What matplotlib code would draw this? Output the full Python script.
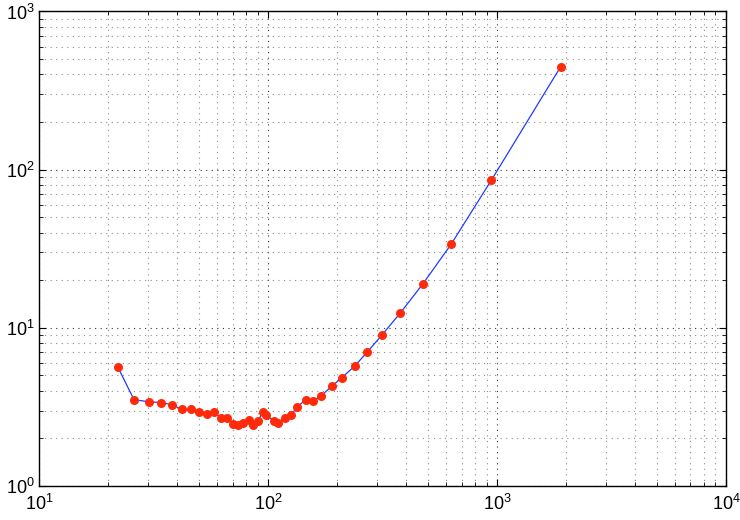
import numpy as np
import matplotlib
matplotlib.use('Agg')
import matplotlib.pyplot as plt

plt.rcParams['font.family'] = ['Liberation Sans', 'DejaVu Sans']
plt.rcParams['mathtext.default'] = 'regular'

# data (log-log)
x = [22.07, 25.93, 30.06, 33.92, 37.88, 42.02, 45.85, 50.0, 53.86, 57.99,
     62.39, 65.87, 70.4, 73.8, 77.9, 82.2, 86.1, 90.2, 94.6, 97.8,
     106.0, 110.4, 118.8, 126.1, 134.0, 145.8, 157.7, 169.6, 190.6, 210.1,
     238.8, 271.0, 314.2, 377.7, 474.7, 630.8, 943.4, 1896.0]
y = [5.63, 3.51, 3.41, 3.37, 3.27, 3.05, 3.07, 2.92, 2.86, 2.92,
     2.69, 2.69, 2.47, 2.43, 2.49, 2.60, 2.44, 2.56, 2.94, 2.80,
     2.58, 2.51, 2.68, 2.82, 3.16, 3.52, 3.46, 3.70, 4.30, 4.85,
     5.73, 7.03, 9.01, 12.41, 19.0, 33.86, 85.6, 447.3]

fig = plt.figure(figsize=(7.4, 5.2), dpi=100)
ax = fig.add_axes([0.0531, 0.0654, 0.9279, 0.9125])

ax.loglog(x, y, '-', color='#1f3cff', linewidth=0.9, zorder=3)
ax.loglog(x, y, 'o', color='#ff2a0a', markersize=6.5, markeredgewidth=0, zorder=4)

ax.set_xlim(10, 1e4)
ax.set_ylim(1, 1e3)

ax.grid(True, which='major', linestyle=(0, (1, 4)), color='0.2', linewidth=0.8)
ax.grid(True, which='minor', linestyle=(0, (1, 4)), color='0.55', linewidth=0.8)

ax.tick_params(which='both', direction='in', top=True, right=True, labelsize=13)
ax.tick_params(which='major', length=5)
ax.tick_params(which='minor', length=3)
ax.tick_params(axis='x', pad=6)
for s in ax.spines.values():
    s.set_linewidth(1.0)

fig.savefig('out.png', dpi=100)
